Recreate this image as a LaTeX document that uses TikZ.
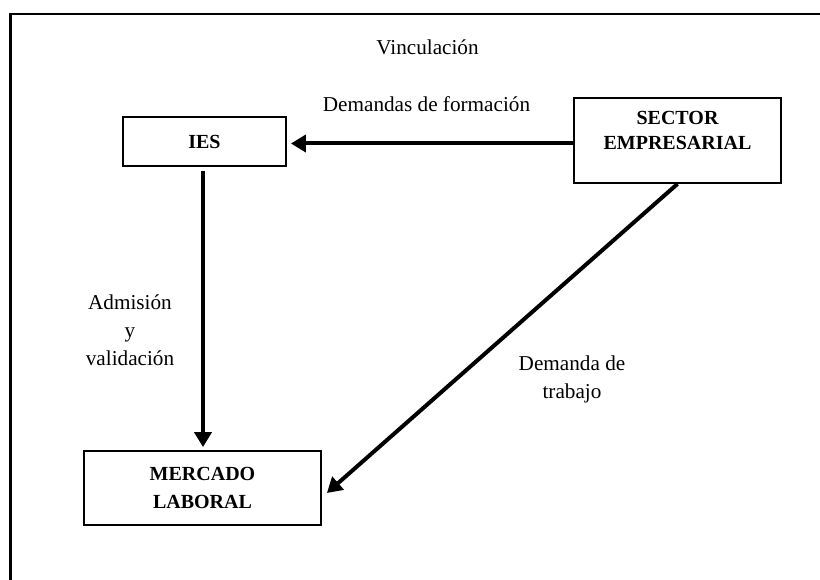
\documentclass[tikz,border=0pt]{standalone}
\usepackage{fontspec}
\setmainfont{Liberation Serif}
\usetikzlibrary{arrows.meta}
\begin{document}
\begin{tikzpicture}[x=1pt,y=-1pt,
  box/.style={draw, line width=1.8pt, inner sep=0pt, align=center,
    font=\bfseries\fontsize{20}{28}\selectfont},
  lbl/.style={inner sep=0pt, align=center, anchor=base,
    font=\fontsize{21.2}{28}\selectfont},
  blbl/.style={inner sep=0pt, align=center, anchor=base,
    font=\bfseries\fontsize{20}{25}\selectfont},
  conn/.style={line width=4pt, -{Triangle[length=15pt,width=17pt]}}]
\useasboundingbox (0,0) rectangle (820,580);
% frame (cut at right and bottom)
\draw[line width=2.6pt] (10.5,582) -- (10.5,14) -- (822,14);
% boxes
\node[box, minimum width=163pt, minimum height=49pt] (ies) at (204.5,141.5) {IES};
\node[box, minimum width=207pt, minimum height=85pt] (sector) at (677.5,140.5) {};
\node[blbl] (sectort) at (677.5,150) {SECTOR\\EMPRESARIAL};
\node[box, minimum width=237pt, minimum height=74pt] (merc) at (202.5,488) {MERCADO\\LABORAL};
% labels
\node[lbl] (vinc) at (427.5,55) {Vinculación};
\node[lbl] (dform) at (426.5,112) {Demandas de formación};
\node[lbl] (adm) at (130,365) {Admisión\\y\\validación};
\node[lbl] (dtrab) at (572,398) {Demanda de\\trabajo};
% connectors
\draw[conn, shorten >=4pt] ([yshift=-3pt]sector.west) -- ([yshift=-3pt]sector.west -| ies.east);
\draw[conn, shorten <=4pt, shorten >=3pt] ([xshift=-1.5pt]ies.south) -- ([xshift=-1.5pt]ies.south |- merc.north);
\draw[conn] (sector.south) -- ([xshift=5pt,yshift=-5pt]merc.east);
\end{tikzpicture}
\end{document}
